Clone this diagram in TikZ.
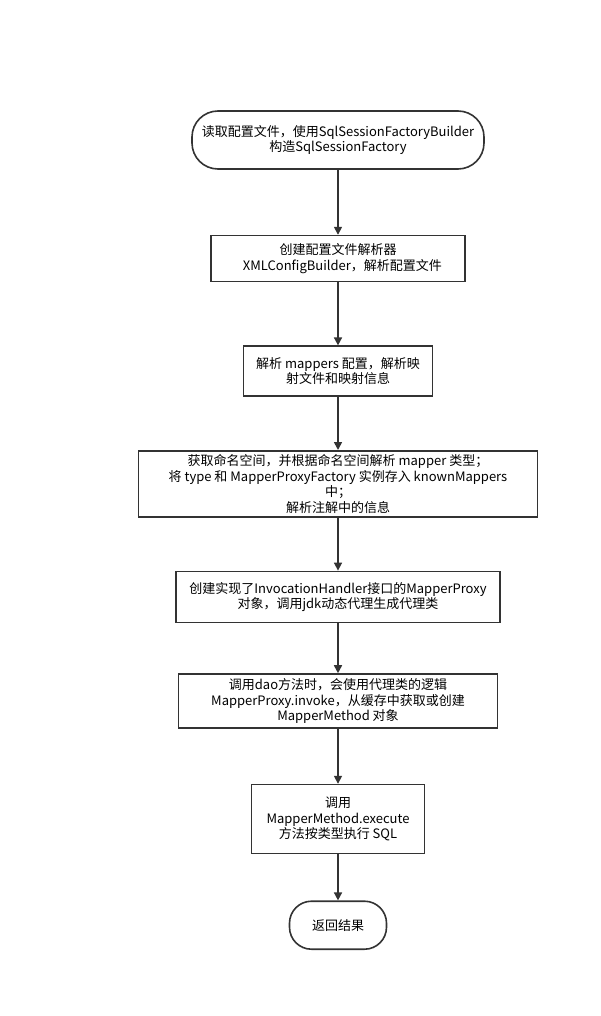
\documentclass[tikz,border=0pt]{standalone}
\usepackage{fontspec}
\setmainfont{Noto Sans CJK SC}
\usepackage{xcolor}
\usepackage{tikz}
\usetikzlibrary{arrows.meta,positioning}
\definecolor{edge}{HTML}{333333}

\begin{document}
\begin{tikzpicture}[x=1pt,y=-1pt,>={Triangle[length=8pt,width=8pt]}]
  \tikzstyle{proc}=[draw=edge,line width=1.6pt,fill=white,align=center,inner xsep=2pt,inner ysep=1pt,font=\fontsize{13pt}{15.5pt}\selectfont]
  \tikzstyle{term}=[proc,rounded corners=26pt]
  \tikzstyle{flow}=[->,edge,line width=1.6pt]
  \useasboundingbox (0,0) rectangle (601,1016);
  \node[term,minimum width=292pt,minimum height=58pt] (read) at (338,140) {读取配置文件，使用SqlSessionFactoryBuilder\\构造SqlSessionFactory};
  \node[proc,minimum width=254pt,minimum height=46pt,below=65pt of read] (xml) {创建配置文件解析器\\\ \ \ XMLConfigBuilder，解析配置文件};
  \node[proc,minimum width=189pt,minimum height=50pt,below=63pt of xml] (mappers) {解析 mappers 配置，解析映\\射文件和映射信息};
  \node[proc,minimum width=399pt,minimum height=66pt,below=53pt of mappers] (ns) {获取命名空间，并根据命名空间解析 mapper 类型；\\将 type 和 MapperProxyFactory 实例存入 knownMappers\\中；\\解析注解中的信息};
  \node[proc,minimum width=324pt,minimum height=51pt,below=53pt of ns] (proxy) {创建实现了InvocationHandler接口的MapperProxy\\对象，调用jdk动态代理生成代理类};
  \node[proc,minimum width=319pt,minimum height=54pt,below=50pt of proxy] (invoke) {调用dao方法时，会使用代理类的逻辑\\MapperProxy.invoke，从缓存中获取或创建\\MapperMethod 对象};
  \node[proc,minimum width=173pt,minimum height=69pt,below=55pt of invoke] (exec) {调用\\MapperMethod.execute\\方法按类型执行 SQL};
  \node[term,rounded corners=22pt,minimum width=97pt,minimum height=48pt,below=46pt of exec] (ret) {返回结果};
  \draw[flow] (read) -- (xml);
  \draw[flow] (xml) -- (mappers);
  \draw[flow] (mappers) -- (ns);
  \draw[flow] (ns) -- (proxy);
  \draw[flow] (proxy) -- (invoke);
  \draw[flow] (invoke) -- (exec);
  \draw[flow] (exec) -- (ret);
\end{tikzpicture}
\end{document}
